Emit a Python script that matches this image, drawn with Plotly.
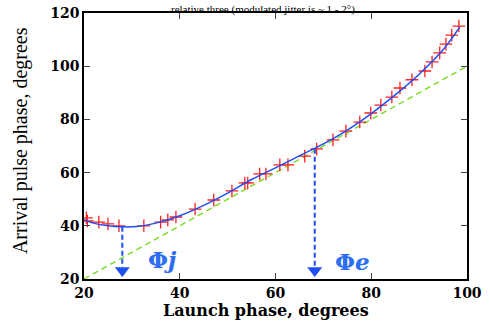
import plotly.graph_objects as go

# measured points (launch phase, arrival phase)
meas_x = [20.5, 20.7, 23.1, 25.0, 27.3, 32.5, 36.0, 37.5, 39.2, 43.2, 47.1, 50.9, 53.6, 54.2,
          56.7, 58.0, 60.9, 62.6, 66.1, 68.6, 72.0, 74.7, 77.6, 79.9, 82.0, 84.3, 86.0, 88.5,
          91.2, 92.7, 94.3, 95.6, 96.8, 98.3]
meas_y = [43.0, 41.8, 41.4, 40.7, 40.0, 40.0, 41.4, 42.2, 43.3, 46.3, 49.7, 53.1, 56.1, 56.1,
          59.5, 59.5, 62.9, 62.9, 66.2, 68.9, 72.3, 75.6, 79.0, 82.4, 85.4, 88.4, 91.8, 94.9,
          98.2, 101.6, 105.0, 108.3, 111.7, 115.1]

# fitted curve
fit_x = [20, 22, 25, 28, 31, 35, 40, 45, 50, 55, 60, 65, 70, 75, 80, 85, 90, 95, 98.5]
fit_y = [42.3, 41.0, 40.0, 39.6, 39.7, 41.0, 43.8, 47.7, 52.3, 57.4, 61.8, 66.3, 70.8, 76.0,
         82.2, 89.2, 97.0, 106.2, 114.8]

# reference line y = x
ref_x = [20, 100]
ref_y = [20, 100]

# marked phases
phase_sym = ["\u03a6", "\u03a6"]
phase_sub = ["j", "e"]
phase_x = [28.0, 68.2]
phase_y = [39.6, 69.0]
label_x = [36.3, 76.0]
label_y = [27.5, 26.6]

x_title = "Launch phase, degrees"
y_title = "Arrival pulse phase, degrees"
top_text = "relative three (modulated jitter is ~ 1 - 2\u00b0)."

blue = "#1f4ff0"
fig = go.Figure()
fig.add_trace(go.Scatter(x=ref_x, y=ref_y, mode="lines",
                         line=dict(color="#77dd22", width=1.4, dash="6px,4px")))
for px, py in zip(phase_x, phase_y):
    fig.add_trace(go.Scatter(x=[px, px], y=[py, 24.5], mode="lines",
                             line=dict(color=blue, width=2, dash="5px,3px")))
    fig.add_trace(go.Scatter(x=[px], y=[23.2], mode="markers",
                             marker=dict(symbol="triangle-down", size=13, color=blue)))
fig.add_trace(go.Scatter(x=meas_x, y=meas_y, mode="markers",
                         marker=dict(symbol="cross-thin", size=9,
                                     line=dict(color="#ff2020", width=1.3))))
fig.add_trace(go.Scatter(x=fit_x, y=fit_y, mode="lines", line_shape="spline",
                         line=dict(color=blue, width=1.5)))

for sym, sub, lx, ly in zip(phase_sym, phase_sub, label_x, label_y):
    fig.add_annotation(x=lx, y=ly, text="<b>" + sym + "<i>" + sub + "</i></b>",
                       showarrow=False,
                       font=dict(family="DejaVu Serif", size=23, color="#2d6ef0"))

fig.add_annotation(xref="paper", yref="paper", x=0.47, y=1.046,
                   text=top_text, showarrow=False, yanchor="top", xanchor="center",
                   font=dict(family="Liberation Serif", size=11, color="black"))
fig.add_annotation(xref="paper", yref="paper", x=0.475, y=-0.1184,
                   xanchor="center", yanchor="middle",
                   text="<b>" + x_title + "</b>", showarrow=False,
                   font=dict(family="DejaVu Serif", size=16, color="black"))
fig.add_annotation(xref="paper", yref="paper", x=-0.166, y=0.52, textangle=-90,
                   xanchor="center", yanchor="middle",
                   text=y_title, showarrow=False,
                   font=dict(family="Liberation Serif", size=20, color="black"))

axis_common = dict(showline=True, linecolor="black", linewidth=1.5, mirror="ticks",
                   ticks="inside", ticklen=6, tickcolor="#444", showgrid=False,
                   zeroline=False, automargin=False,
                   tickfont=dict(family="DejaVu Serif", size=14, color="black", weight="bold"))
fig.update_xaxes(range=[20, 100], tickvals=[20, 40, 60, 80, 100], **axis_common)
fig.update_yaxes(range=[20, 120], tickvals=[20, 40, 60, 80, 100, 120], **axis_common)
fig.update_layout(width=490, height=321, showlegend=False,
                  margin=dict(l=84, r=23, t=13, b=42),
                  plot_bgcolor="white", paper_bgcolor="white")
fig.write_html("out.html", config={"displayModeBar": False},
               post_script="document.body.style.margin='0';")
